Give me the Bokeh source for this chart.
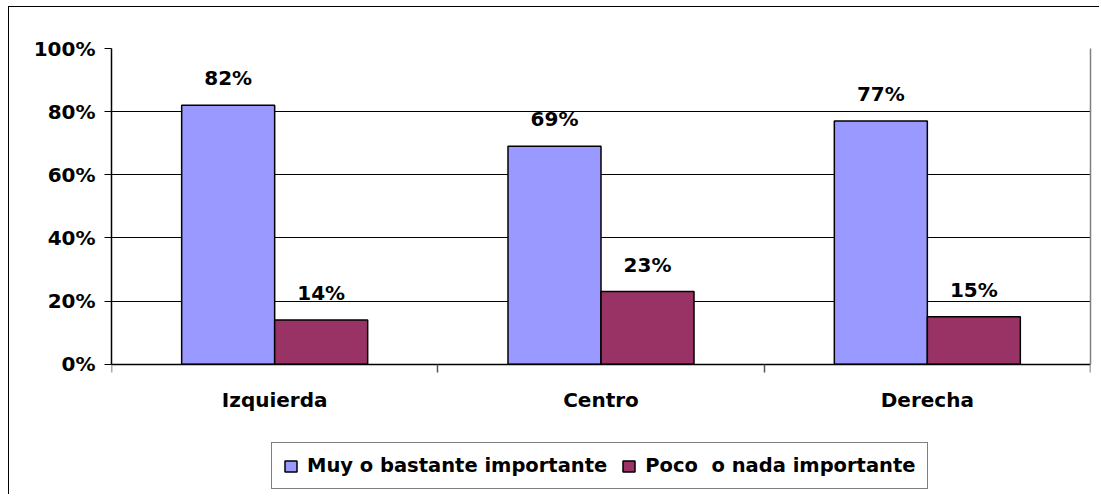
from bokeh.plotting import figure
from bokeh.models import (ColumnDataSource, FixedTicker, PrintfTickFormatter, Range1d,
                          Legend, LegendItem, LinearAxis)
from bokeh.core.properties import value
from bokeh.embed import file_html
from bokeh.resources import INLINE

categories = ["Izquierda", "Centro", "Derecha"]
series_names = ["Muy o bastante importante", "Poco  o nada importante"]
muy = [82, 69, 77]
poco = [14, 23, 15]
colors = ["#9999FF", "#993366"]
y_ticks = [0, 20, 40, 60, 80, 100]

centers = [i + 0.5 for i in range(len(categories))]
bar_w = 0.285

p = figure(width=1091, height=488, output_backend="svg", toolbar_location=None,
           x_axis_location="above",
           x_range=Range1d(0, len(categories)), y_range=Range1d(-40.35, 100),
           min_border_left=102, min_border_right=10, min_border_top=41, min_border_bottom=4)
p.styles = {"margin-left": "8px", "margin-top": "6px",
            "border-left": "1.5px solid black", "border-top": "1.5px solid black"}
p.background_fill_color = "white"
p.border_fill_color = "white"
p.outline_line_color = None

renderers = []
for k, (vals, col) in enumerate(zip([muy, poco], colors)):
    off = (k - 0.5) * bar_w
    src = ColumnDataSource(dict(x=[c + off for c in centers], top=vals,
                                lab=[f"{v}%" for v in vals]))
    r = p.vbar(x="x", top="top", width=bar_w, bottom=0, source=src,
               fill_color=col, line_color="black", line_width=1.5)
    renderers.append(r)
    p.text(x="x", y="top", text="lab", source=src, text_align="center",
           text_baseline="alphabetic", y_offset=-27,
           text_font=value("DejaVu Sans"), text_font_style="bold",
           text_font_size="20px", text_color="black")

# category labels under the category axis
cat_src = ColumnDataSource(dict(x=centers, y=[0] * len(categories), lab=categories))
p.text(x="x", y="y", text="lab", source=cat_src, text_align="center",
       text_baseline="alphabetic", y_offset=36,
       text_font=value("DejaVu Sans"), text_font_style="bold",
       text_font_size="20px", text_color="black")

# y axis
p.yaxis.ticker = FixedTicker(ticks=y_ticks)
p.yaxis.bounds = (0, 100)
p.yaxis.formatter = PrintfTickFormatter(format="%d%%")
p.yaxis.major_label_text_font = "DejaVu Sans"
p.yaxis.major_label_text_font_style = "bold"
p.yaxis.major_label_text_font_size = "20px"
p.yaxis.major_label_text_color = "black"
p.yaxis.major_tick_out = 7
p.yaxis.major_tick_in = 0
p.yaxis.minor_tick_line_color = None
p.yaxis.axis_line_color = "black"
p.yaxis.axis_line_width = 1.5
p.yaxis.major_tick_line_color = "black"
p.yaxis.major_label_standoff = 9

# right border of the plot area
right = LinearAxis(ticker=FixedTicker(ticks=[]), bounds=(0, 100),
                   axis_line_color="#808080", axis_line_width=1.5,
                   major_tick_line_color=None, minor_tick_line_color=None,
                   major_label_text_font_size="0px")
p.add_layout(right, "right")

# category axis at y = 0 with separator ticks between categories
p.xaxis.fixed_location = 0
p.xaxis.ticker = FixedTicker(ticks=[], minor_ticks=list(range(len(categories) + 1)))
p.xaxis.major_tick_line_color = None
p.xaxis.major_label_text_font_size = "0px"
p.xaxis.minor_tick_out = 0
p.xaxis.minor_tick_in = 8
p.xaxis.minor_tick_line_color = "#555555"
p.xaxis.minor_tick_line_width = 1.5
p.xaxis.axis_line_color = "black"
p.xaxis.axis_line_width = 1.5

p.xgrid.grid_line_color = None
p.ygrid.grid_line_color = "black"
p.ygrid.grid_line_width = 1

legend = Legend(items=[LegendItem(label=n, renderers=[r]) for n, r in zip(series_names, renderers)],
                orientation="horizontal", location=(160, 2),
                glyph_width=15, glyph_height=14, label_standoff=9, spacing=14,
                padding=11, margin=0, label_height=22,
                label_text_font="DejaVu Sans", label_text_font_style="bold",
                label_text_font_size="19.5px", label_text_color="black",
                border_line_color="black", border_line_width=1.5,
                background_fill_color="white", background_fill_alpha=1)
p.add_layout(legend, "center")

open("out.html", "w").write(file_html(p, INLINE))
